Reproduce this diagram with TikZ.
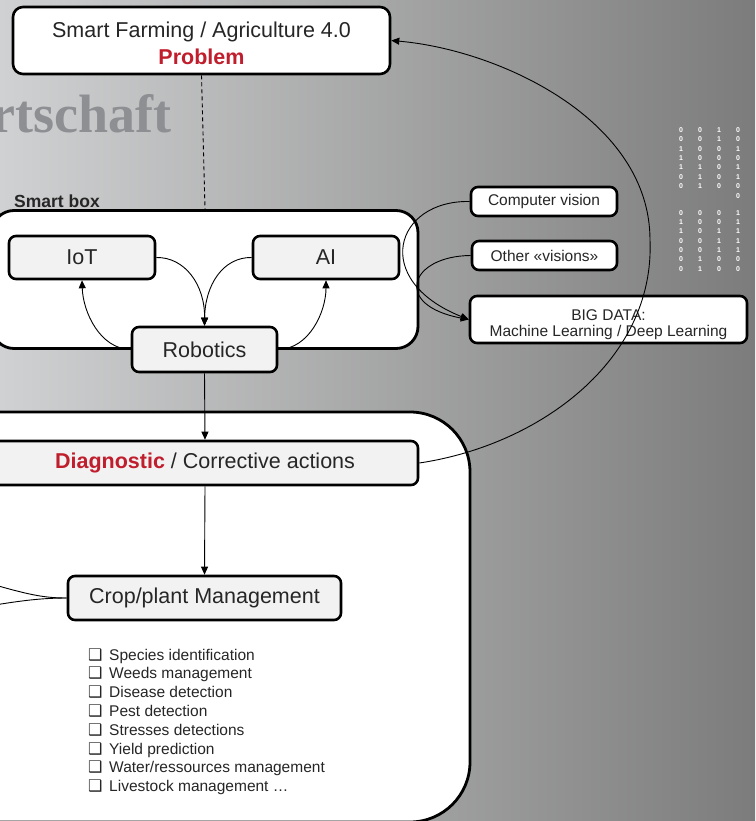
\documentclass[tikz,border=0pt]{standalone}
\usepackage{fontspec}
\setmainfont{Liberation Sans}
\newfontfamily\dejavu{DejaVu Sans}
\newfontfamily\serifb{Liberation Serif}
\usetikzlibrary{arrows.meta}
\definecolor{bgL}{RGB}{208,209,210}
\definecolor{bgM}{RGB}{158,158,158}
\definecolor{bgR}{RGB}{124,124,124}
\definecolor{txt}{RGB}{38,38,38}
\definecolor{redt}{RGB}{192,30,45}
\definecolor{boxg}{RGB}{242,242,242}
\definecolor{wm}{RGB}{142,143,147}
\begin{document}
\begin{tikzpicture}[x=1pt,y=-1pt,
  mainfont/.style={font=\fontsize{21.5}{26}\selectfont},
  smallfont/.style={font=\fontsize{15.5}{17}\selectfont},
  gbox/.style={draw=black, line width=2.6pt, rounded corners=7pt, fill=boxg, text=txt, inner sep=0pt, mainfont},
  wbox/.style={draw=black, line width=2.6pt, rounded corners=7pt, fill=white, text=txt, inner sep=0pt, smallfont},
  frame/.style={draw=black, line width=2.8pt, fill=white, inner sep=0pt},
  conn/.style={draw=black, line width=0.9pt},
  arr/.style={conn, -{Triangle[length=8pt,width=7pt]}},
  digits/.style={text=white, font=\bfseries\fontsize{7}{9.35}\selectfont, align=center, inner sep=0pt, anchor=north},
  item/.style={text=txt, font=\fontsize{15.5}{18}\selectfont, inner sep=0pt, anchor=base west}
]
\useasboundingbox (0,0) rectangle (755,821);
\shade[left color=bgL, middle color=bgM, right color=bgR] (0,0) rectangle (755,821);

% watermark
\node[text=wm, font=\serifb\bfseries\fontsize{54}{54}\selectfont, inner sep=0pt, anchor=base east] (wmark) at (172,133) {rtschaft};

% binary digits
\node[digits] (b1) at (681,127.5) {0\\0\\1\\1\\1\\0\\0};
\node[digits] (b2) at (700,127.5) {0\\0\\0\\0\\1\\1\\1};
\node[digits] (b3) at (719,127.5) {1\\1\\0\\0\\0\\0\\0};
\node[digits] (b4) at (738,127.5) {0\\0\\1\\0\\1\\1\\0\\0};
\node[digits] (c1) at (681,210) {0\\1\\1\\0\\0\\0\\0};
\node[digits] (c2) at (700,210) {0\\0\\0\\0\\0\\1\\1};
\node[digits] (c3) at (719,210) {0\\0\\1\\1\\1\\0\\0};
\node[digits] (c4) at (738,210) {1\\1\\1\\1\\1\\0\\0};

% frames
\node[frame, rounded corners=22pt, minimum width=426, minimum height=138] (smart) at (205,279.5) {};
\node[frame, rounded corners=60pt, minimum width=530, minimum height=410] (lower) at (205,617) {};
\node[text=txt, font=\bfseries\fontsize{17.5}{20}\selectfont, inner sep=0pt, anchor=base west] (smartlbl) at (14,207.7) {Smart box};

% top box
\node[wbox, rounded corners=10pt, mainfont, minimum width=377, minimum height=67, align=center] (top) at (201.5,40.5)
  {\rule{0pt}{22pt}Smart Farming / Agriculture 4.0\\[1pt]\textcolor{redt}{\textbf{Problem}}};

% smart box contents
\node[gbox, minimum width=146, minimum height=43] (iot) at (82,257.5) {IoT};
\node[gbox, minimum width=146, minimum height=43] (ai) at (326,257.5) {AI};
\node[gbox, minimum width=145, minimum height=45] (rob) at (204.5,349.5) {Robotics};

% right boxes
\node[wbox, minimum width=146, minimum height=29] (cv) at (544,201.5) {Computer vision};
\node[wbox, minimum width=145, minimum height=29] (ov) at (544.5,255.5) {Other «visions»};
\node[wbox, minimum width=277, minimum height=47, align=center, font=\fontsize{15.5}{16.5}\selectfont] (bd) at (608.5,319.5)
  {\rule{0pt}{21pt}BIG DATA:\\Machine Learning / Deep Learning};

% lower contents
\node[gbox, minimum width=426, minimum height=44] (diag) at (205,463)
  {\textcolor{redt}{\textbf{Diagnostic}} / Corrective actions};
\node[gbox, minimum width=273, minimum height=44] (crop) at (204.5,598) {Crop/plant Management};

\foreach \t [count=\i] in {Species identification, Weeds management, Disease detection, Pest detection, Stresses detections, Yield prediction, Water/ressources management, Livestock management …}
  \node[item] (it\i) at (88,{660+(\i-1)*18.8}) {\makebox[21pt][l]{\dejavu\fontsize{16}{16}\selectfont ❑}\t};

% connectors
\draw[conn, dashed, dash pattern=on 4pt off 3pt] (top.south) -- (smart.north);
\draw[arr] (iot.east) .. controls (185,257) and (205,285) .. (rob.north);
\draw[arr] (ai.west) .. controls (223,257) and (205,285) .. (rob.north);
\draw[arr] (rob.west) .. controls (100,349) and (83,312) .. (iot.south);
\draw[arr] (rob.east) .. controls (309,349) and (326,312) .. (ai.south);
\draw[arr] (rob.south) -- (diag.north);
\draw[arr] (diag.south) -- (crop.north);

\coordinate (l1) at (-5,585);
\coordinate (l2) at (-5,605);
\draw[conn] (l1) .. controls (30,595) and (45,598) .. (crop.west);
\draw[conn] (l2) .. controls (25,600) and (45,598) .. (crop.west);

\draw[arr] (cv.west) .. controls (395,200) and (370,280) .. (bd.west);
\draw[arr] (ov.west) .. controls (410,256) and (392,305) .. (bd.west);

\draw[arr] (diag.east) .. controls (540,445) and (655,360) .. (650,240)
  .. controls (650,120) and (500,50) .. (top.east);
\end{tikzpicture}
\end{document}
